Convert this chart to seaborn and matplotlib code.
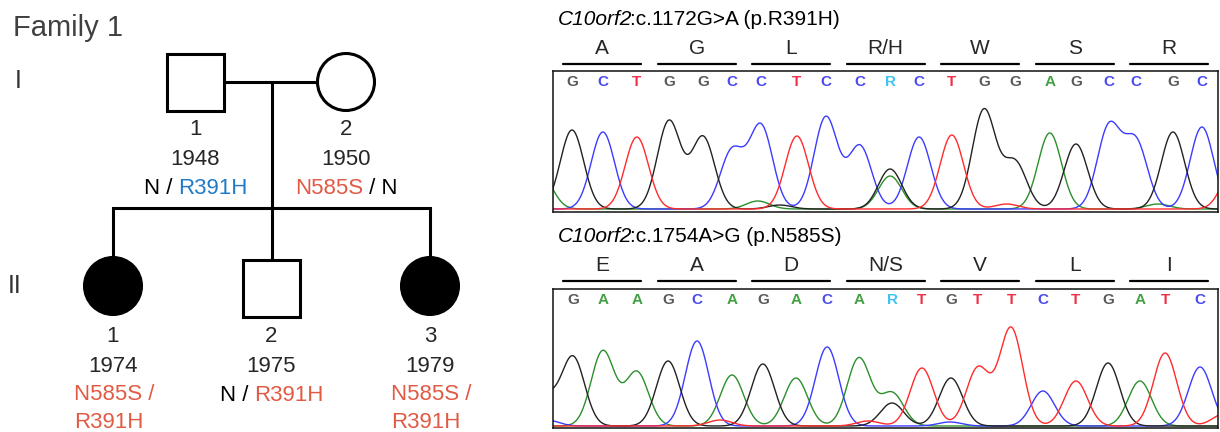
import numpy as np
import pandas as pd
import matplotlib
matplotlib.use("Agg")
import matplotlib.pyplot as plt
import matplotlib.transforms as mtransforms
from matplotlib.font_manager import FontProperties
from matplotlib.patches import Rectangle, Circle
import seaborn as sns

sns.set_style("white")
plt.rcParams['font.family'] = ['Liberation Sans', 'DejaVu Sans']

# ---- pedigree data ----
ped_ids = ['1', '2', '1', '2', '3']
ped_years = ['1948', '1950', '1974', '1975', '1979']
ped_sex = ['M', 'F', 'F', 'M', 'F']
ped_affected = [False, False, True, False, True]
BLUE, RED = '#1f7bc7', '#e05a44'
ped_geno = [
    [[('N / ', 'black'), ('R391H', BLUE)]],
    [[('N585S', RED), (' / N', 'black')]],
    [[('N585S /', RED)], [('R391H', RED)]],
    [[('N / ', 'black'), ('R391H', RED)]],
    [[('N585S /', RED)], [('R391H', RED)]],
]

# ---- chromatogram data ----
gene = 'C10orf2'
top_title = ':c.1172G>A (p.R391H)'
top_aa = ['A', 'G', 'L', 'R/H', 'W', 'S', 'R']
top_bases = list('GCTGGCCTCCRCTGGAGCCGC')
top_pos = [0.0, 0.98, 2.06, 3.08, 4.16, 5.08, 6.0, 7.14, 8.06, 9.14, 10.1,
           11.02, 12.06, 13.08, 14.06, 15.17, 16.0, 17.05, 17.9, 19.08, 20.0]
top_A = [0, 0, 0, 0, 0, 0, 0, 0, 0, 0, 33, 0, 0, 0, 0, 76, 0, 0, 0, 0, 0]
top_C = [0, 77, 0, 0, 0, 58, 83, 0, 92, 63, 0, 72, 0, 0, 0, 0, 0, 82, 67, 0, 82]
top_G = [79, 0, 0, 88, 72, 0, 0, 0, 0, 0, 40, 0, 0, 99, 47, 0, 65, 0, 0, 77, 0]
top_T = [0, 0, 72, 0, 0, 0, 0, 73, 0, 0, 0, 0, 74, 0, 0, 0, 0, 0, 0, 0, 0]
top_minor = [(-1.0, 'A', 35), (5.9, 'A', 8), (6.6, 'G', 4), (18.6, 'A', 5),
             (13.8, 'T', 5), (21.0, 'T', 40)]

bot_title = ':c.1754A>G (p.N585S)'
bot_aa = ['E', 'A', 'D', 'N/S', 'V', 'L', 'I']
bot_bases = list('GAAGCAGACARTGTTCTGATC')
bot_pos = [0.03, 0.98, 2.06, 3.05, 3.97, 5.08, 6.06, 7.11, 8.1, 9.11, 10.16,
           11.11, 12.03, 12.89, 13.94, 14.95, 16.0, 17.02, 18.03, 18.83, 19.94]
bot_A = [0, 75, 54, 0, 0, 51, 0, 48, 0, 68, 33, 0, 0, 0, 0, 0, 0, 0, 45, 0, 0]
bot_C = [0, 0, 0, 0, 85, 0, 0, 0, 79, 0, 0, 0, 0, 0, 0, 35, 0, 0, 0, 0, 59]
bot_G = [69, 0, 0, 65, 0, 0, 62, 0, 0, 0, 23, 0, 48, 0, 0, 0, 0, 63, 0, 0, 0]
bot_T = [0, 0, 0, 0, 0, 0, 0, 0, 0, 0, 0, 58, 0, 58, 98, 0, 45, 0, 0, 73, 0]
bot_minor = [(-0.9, 'G', 30), (-0.8, 'C', 6), (4.7, 'T', 6), (9.4, 'T', 5),
             (12.0, 'C', 4), (20.7, 'T', 12)]

trace_pal = {'A': '#2b8f2b', 'C': '#3b3bff', 'G': '#222222', 'T': '#ff2b2b'}
call_pal = {'A': '#44a044', 'C': '#4a4af0', 'G': '#5a5a5a', 'T': '#f03048',
            'R': '#3fc3f3'}

fig = plt.figure(figsize=(12.2, 4.32), dpi=100)
renderer = fig.canvas.get_renderer()


def seg_text(ax, x, y, segs, size, ha='center'):
    """draw text made of differently coloured / styled pieces"""
    widths = []
    for s, c, st in segs:
        prop = FontProperties(family='Liberation Sans', size=size, style=st)
        wb = renderer.get_text_width_height_descent('|', prop, ismath=False)[0]
        w = renderer.get_text_width_height_descent(s + '|', prop, ismath=False)[0] - wb
        if st == 'italic':
            w -= 2.5  # italic bbox overhang
        widths.append(w)
    off = -sum(widths) / 2 if ha == 'center' else 0
    for (s, c, st), w in zip(segs, widths):
        tr = mtransforms.offset_copy(ax.transData, fig=fig, x=off, y=0, units='dots')
        ax.text(x, y, s, color=c, fontsize=size, fontstyle=st, transform=tr,
                ha='left', va='baseline')
        off += w


# ---- pedigree (pixel coordinates) ----
ax0 = fig.add_axes([0, 0, 1, 1])
ax0.set_xlim(0, 1220)
ax0.set_ylim(432, 0)
ax0.axis('off')

ax0.text(13, 36, 'Family 1', fontsize=21, color='#404040')
ax0.text(15, 88, 'I', fontsize=18, color='#333333')
ax0.text(8, 293, 'II', fontsize=18, color='#333333')

cx = [195.5, 346, 113, 271.5, 430]
cy = [82, 82, 286, 288, 286]
half = 28.5
lw = 2.2
for i in range(5):
    fc = 'black' if ped_affected[i] else 'white'
    if ped_sex[i] == 'M':
        p = Rectangle((cx[i] - half, cy[i] - half), 2 * half, 2 * half,
                      fc=fc, ec='black', lw=lw, zorder=3)
    else:
        p = Circle((cx[i], cy[i]), half, fc=fc, ec='black', lw=lw, zorder=3)
    ax0.add_patch(p)

ax0.plot([cx[0] + half, cx[1] - half], [82, 82], color='black', lw=lw)
ax0.plot([272, 272], [82, 208], color='black', lw=lw)
ax0.plot([cx[2], cx[4]], [208, 208], color='black', lw=lw, solid_capstyle='projecting')
for i in (2, 3, 4):
    ax0.plot([cx[i], cx[i]], [208, cy[i] - half], color='black', lw=lw)

for i in range(5):
    gen2 = i >= 2
    b0 = 342 if gen2 else 135
    ax0.text(cx[i], b0, ped_ids[i], fontsize=16, ha='center', va='baseline')
    ax0.text(cx[i], b0 + 30, ped_years[i], fontsize=16, ha='center', va='baseline')
    lines = ped_geno[i]
    if len(lines) == 1:
        seg_text(ax0, cx[i], b0 + 59, [(s, c, 'normal') for s, c in lines[0]], 16)
    else:
        for k, ln in enumerate(lines):
            seg_text(ax0, cx[i] - 39, b0 + 58 + 28 * k,
                     [(s, c, 'normal') for s, c in ln], 16, ha='left')


# ---- chromatograms ----
def chromatogram(rect, ylim, title, aa, bases, pos, A, C, G, T, minor):
    ax = fig.add_axes(rect)
    xs = np.arange(-0.7, 20.7, 0.02)
    sig = 0.37
    rows = []
    heights = {'A': A, 'C': C, 'G': G, 'T': T}
    for ch in 'ACGT':
        y = np.zeros_like(xs)
        for p, h in zip(pos, heights[ch]):
            y += h * np.exp(-0.5 * ((xs - p) / sig) ** 2)
        for p, c2, h in minor:
            if c2 == ch:
                y += h * np.exp(-0.5 * ((xs - p) / sig) ** 2)
        rows.append(pd.DataFrame({'x': xs, 'signal': y, 'channel': ch}))
    df = pd.concat(rows, ignore_index=True)
    sns.lineplot(data=df, x='x', y='signal', hue='channel', palette=trace_pal,
                 estimator=None, sort=False, linewidth=1.0, legend=False, ax=ax)
    ax.set_xlim(-0.603, 20.51)
    ax.set_ylim(*ylim)
    ax.set_xlabel('')
    ax.set_ylabel('')
    ax.set_xticks([])
    ax.set_yticks([])
    for sp in ax.spines.values():
        sp.set_visible(True)
        sp.set_color('#111111')
        sp.set_linewidth(1.1)
    for p, b in zip(pos, bases):
        ax.text(p, ylim[1] - 11, b, color=call_pal[b], fontsize=11,
                fontweight='bold', ha='center', va='center')
    for k, a in enumerate(aa):
        ax.plot([3 * k - 0.28, 3 * k + 2.2], [145, 145], color='black', lw=1.6,
                clip_on=False)
        ax.text(3 * k + 0.96, 155, a, fontsize=15, ha='center', va='baseline')
    seg_text(ax, -0.44, 184, [(gene, 'black', 'italic'), (title, 'black', 'normal')],
             15, ha='left')
    return ax


chromatogram([553 / 1220, 220 / 432, 665 / 1220, 141 / 432], (-3, 138),
             top_title, top_aa, top_bases, top_pos, top_A, top_C, top_G, top_T, top_minor)
chromatogram([553 / 1220, 4 / 432, 665 / 1220, 139 / 432], (-2, 137),
             bot_title, bot_aa, bot_bases, bot_pos, bot_A, bot_C, bot_G, bot_T, bot_minor)

fig.savefig('out.png', dpi=100)
